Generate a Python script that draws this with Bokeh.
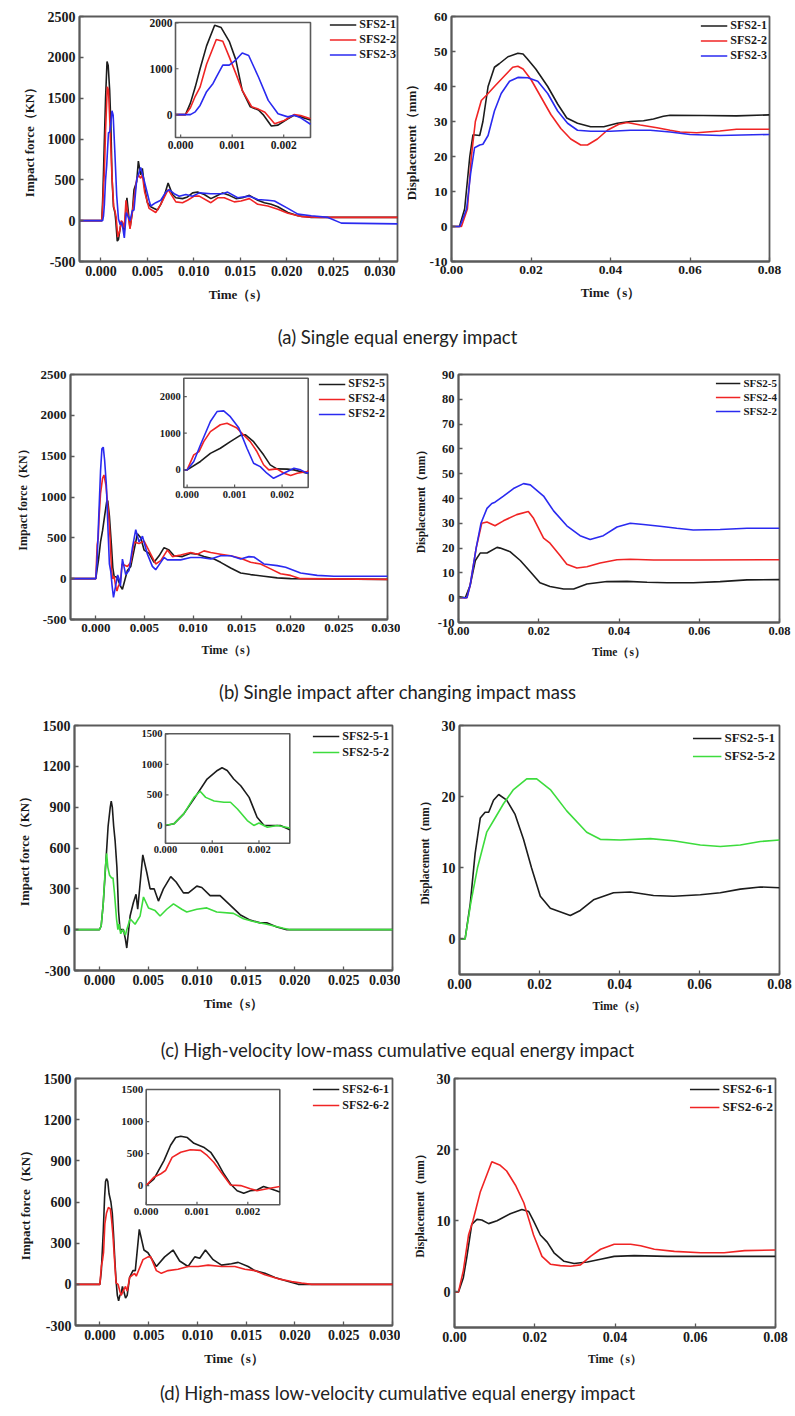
import math
from bokeh.plotting import figure
from bokeh.models import Range1d, FixedTicker, NumeralTickFormatter, Legend, LegendItem, Div
from bokeh.layouts import column, row
from bokeh.embed import file_html
from bokeh.resources import INLINE
from bokeh.core.properties import value

SERIF = "Liberation Serif"
BLACK, RED, BLUE, GREEN = "#1c1c1c", "#f02424", "#2a2af0", "#3ddc3d"
FRAME = "#5a5a5a"

# ---------------- tick values / labels ----------------
force_x_ticks = [0.000, 0.005, 0.010, 0.015, 0.020, 0.025, 0.030]
disp_x_ticks = [0.00, 0.02, 0.04, 0.06, 0.08]
force_y_ticks_ab = [-500, 0, 500, 1000, 1500, 2000, 2500]
force_y_ticks_cd = [-300, 0, 300, 600, 900, 1200, 1500]
disp_y_ticks_a = [-10, 0, 10, 20, 30, 40, 50, 60]
disp_y_ticks_b = [-10, 0, 10, 20, 30, 40, 50, 60, 70, 80, 90]
disp_y_ticks_cd = [0, 10, 20, 30]
inset_x_ticks = [0.000, 0.001, 0.002]
inset_x_labels = ["0.000", "0.001", "0.002"]
inset_y_ticks_ab = [0, 1000, 2000]
inset_y_labels_ab = ["0", "1000", "2000"]
inset_y_ticks_cd = [0, 500, 1000, 1500]
inset_y_labels_cd = ["0", "500", "1000", "1500"]

captions = ["(a) Single equal energy impact",
            "(b) Single impact after changing impact mass",
            "(c) High-velocity low-mass cumulative equal energy impact",
            "(d) High-mass low-velocity cumulative equal energy impact"]

# ---------------- (a) impact force ----------------
t_a1 = [-0.003, 0.0, 0.000094, 0.000189, 0.000283, 0.000377, 0.000503, 0.00066, 0.000786, 0.000943, 0.00107, 0.001195, 0.001352, 0.00151, 0.0016, 0.00176, 0.00189, 0.00208, 0.0022, 0.00233, 0.00252,
        0.0028, 0.00313, 0.00338, 0.00356, 0.00385, 0.00403, 0.00428, 0.00446, 0.00471, 0.005, 0.00536, 0.00572, 0.00608, 0.00644, 0.0068, 0.00723, 0.0077, 0.00806, 0.00878, 0.00932, 0.00986, 0.0104, 0.01112, 0.01183, 0.01237, 0.01309, 0.01381, 0.01453, 0.01525, 0.01597, 0.01687, 0.01759, 0.01831, 0.01903, 0.02011, 0.02119, 0.02263, 0.0237, 0.0259, 0.0325]
f_a1 = [0, 0, 0, 250, 600, 1000, 1500, 1950, 1900, 1600, 1200, 530, 170, 100, 0, -250, -230, -90, -15, -50, -120,
        280, -90, 100, 380, 480, 730, 560, 640, 400, 220, 170, 150, 130, 200, 300, 460, 320, 280, 270, 290, 340, 350, 320, 270, 300, 340, 310, 270, 280, 310, 250, 220, 200, 170, 100, 60, 40, 40, 40, 40]
t_a2 = [-0.003, 0.0, 0.000094, 0.000189, 0.000283, 0.000377, 0.000503, 0.000692, 0.000818, 0.000943, 0.00107, 0.001195, 0.00138, 0.00151, 0.001635, 0.001824, 0.00201, 0.0022, 0.00233, 0.00252,
        0.0027, 0.00313, 0.00338, 0.0036, 0.00385, 0.00403, 0.00428, 0.00446, 0.00471, 0.00518, 0.0059, 0.00644, 0.00723, 0.00806, 0.00878, 0.00932, 0.01004, 0.01058, 0.01183, 0.01255, 0.01327, 0.01435, 0.01507, 0.01597, 0.01687, 0.01795, 0.01903, 0.02011, 0.02155, 0.0237, 0.0325]
f_a2 = [0, 0, 0, 150, 400, 600, 1100, 1640, 1600, 1260, 900, 530, 170, 120, 50, -200, -130, 0, -20, -90,
        250, -100, 100, 300, 500, 560, 520, 560, 350, 150, 100, 200, 380, 230, 220, 250, 300, 300, 220, 280, 280, 230, 240, 270, 200, 180, 140, 90, 50, 40, 40]
t_a3 = [-0.003, 0.0, 0.000189, 0.000283, 0.000377, 0.000503, 0.000629, 0.000692, 0.000818, 0.000943, 0.00107, 0.001195, 0.00132, 0.00151, 0.0017, 0.00189, 0.00208, 0.0022, 0.00233, 0.00252,
        0.00273, 0.00313, 0.00338, 0.00356, 0.00385, 0.00428, 0.00464, 0.00518, 0.00536, 0.0059, 0.00644, 0.00698, 0.00734, 0.00788, 0.00842, 0.00914, 0.00986, 0.01058, 0.01183, 0.01309, 0.01363, 0.01471, 0.01597, 0.01687, 0.01795, 0.01867, 0.02011, 0.02119, 0.02263, 0.02442, 0.02586, 0.0325]
f_a3 = [0, 0, 0, 60, 200, 500, 680, 820, 1080, 1080, 1190, 1345, 1290, 820, 310, 20, -50, -15, -70, -210,
        100, 0, 120, 130, 500, 650, 500, 250, 180, 220, 250, 350, 380, 330, 300, 320, 300, 340, 330, 330, 350, 280, 300, 260, 250, 240, 150, 80, 60, 40, -30, -40]

# ---------------- (a) displacement ----------------
td_a1 = [0, 0.002, 0.0033, 0.0046, 0.0054, 0.0071, 0.0079, 0.0092, 0.0108, 0.012, 0.0142, 0.0167, 0.018, 0.019, 0.0212, 0.0242, 0.0267, 0.029, 0.0317, 0.035, 0.0383, 0.0417, 0.045, 0.0483, 0.0508, 0.0533, 0.055, 0.0633, 0.0717, 0.08]
d_a1 = [0, 0, 5, 20, 26.2, 26, 30, 40, 45.5, 46.5, 48.5, 49.5, 49.3, 48, 45, 40, 35, 31, 29.5, 28.5, 28.5, 29.5, 30, 30.2, 30.7, 31.5, 31.8, 31.7, 31.6, 31.9]
td_a2 = [0, 0.0025, 0.004, 0.005, 0.006, 0.0075, 0.0088, 0.0108, 0.0133, 0.0154, 0.0167, 0.018, 0.02, 0.0225, 0.025, 0.0275, 0.03, 0.0325, 0.0342, 0.0367, 0.0392, 0.0421, 0.0442, 0.0475, 0.0517, 0.055, 0.0575, 0.0617, 0.0675, 0.0717, 0.08]
d_a2 = [0, 0, 5, 20, 30, 36, 37.5, 40, 43, 45.5, 45.8, 45, 42, 37, 32, 28, 25, 23.3, 23.3, 25, 27.5, 29.2, 29.7, 29, 28.2, 27.5, 27, 26.8, 27.3, 27.8, 27.8]
td_a3 = [0, 0.0021, 0.0038, 0.0048, 0.0058, 0.0071, 0.0079, 0.0092, 0.0108, 0.0125, 0.0146, 0.0167, 0.0192, 0.0217, 0.0242, 0.0267, 0.0292, 0.0317, 0.035, 0.04, 0.045, 0.05, 0.055, 0.06, 0.0675, 0.08]
d_a3 = [0, 0, 5, 15, 22.5, 23.3, 23.5, 26, 33, 38, 41.5, 42.6, 42.5, 41.5, 38, 33, 29.5, 27.5, 27.2, 27.2, 27.5, 27.5, 27, 26.3, 26, 26.3]

# ---------------- (b) impact force ----------------
t_b5 = [-0.003, 0.0, 0.00028, 0.00049, 0.0007, 0.00091, 0.00112, 0.00123, 0.0014, 0.00161, 0.00175, 0.00189, 0.00211, 0.00225, 0.00253, 0.00274, 0.00325, 0.0036, 0.00394, 0.00428, 0.00462, 0.00497, 0.00548, 0.00599, 0.00651, 0.00702, 0.00753, 0.00805, 0.0089, 0.00976, 0.01045, 0.01113, 0.01216, 0.01284, 0.01387, 0.0149, 0.01592, 0.01729, 0.01866, 0.02003, 0.031]
f_b5 = [0, 0, 230, 450, 590, 770, 940, 955, 770, 410, 136, 27, 20, 0, -90, -130, 100, 150, 350, 550, 500, 350, 310, 200, 280, 380, 350, 280, 270, 310, 300, 270, 240, 200, 130, 70, 50, 30, 10, 0, -10]
t_b4 = [-0.003, 0.0, 0.00014, 0.00025, 0.00035, 0.00049, 0.0007, 0.00084, 0.00105, 0.00119, 0.00133, 0.00147, 0.00161, 0.00172, 0.00189, 0.00204, 0.00218, 0.00232, 0.00253, 0.0027, 0.00325, 0.0036, 0.00394, 0.00445, 0.00497, 0.00565, 0.00616, 0.00668, 0.00736, 0.00788, 0.00873, 0.00976, 0.01045, 0.01113, 0.01182, 0.01284, 0.01387, 0.0149, 0.01592, 0.01695, 0.01798, 0.019, 0.02003, 0.02106, 0.031]
f_b4 = [0, 0, 410, 500, 770, 1045, 1230, 1270, 1140, 950, 770, 500, 140, 0, 27, -90, -150, -90, -45, 180, 150, 200, 450, 430, 460, 300, 180, 220, 350, 270, 290, 320, 300, 340, 320, 300, 280, 250, 200, 180, 120, 60, 40, 0, -10]
t_b2 = [-0.003, 0.0, 0.00014, 0.00028, 0.00049, 0.00063, 0.00077, 0.00091, 0.00109, 0.00126, 0.0014, 0.00154, 0.00168, 0.00182, 0.00196, 0.00211, 0.00225, 0.00239, 0.00253, 0.00274, 0.00308, 0.00342, 0.00377, 0.00411, 0.00445, 0.0048, 0.00531, 0.00582, 0.00616, 0.00668, 0.00702, 0.00736, 0.00873, 0.00976, 0.01079, 0.01182, 0.01284, 0.01387, 0.0149, 0.01575, 0.01626, 0.01729, 0.01866, 0.01952, 0.02106, 0.02277, 0.02449, 0.031]
f_b2 = [0, 0, 230, 680, 1320, 1590, 1610, 1450, 1140, 590, 180, 90, -90, -230, -140, -45, 45, 0, -90, 240, 50, 100, 380, 600, 450, 520, 300, 150, 110, 200, 260, 230, 230, 260, 260, 240, 280, 280, 240, 270, 265, 180, 160, 140, 70, 40, 30, 30]

# ---------------- (b) displacement ----------------
td_b5 = [0, 0.0017, 0.0029, 0.0042, 0.0054, 0.0071, 0.0096, 0.0104, 0.0129, 0.0154, 0.0179, 0.0203, 0.0228, 0.0262, 0.0287, 0.032, 0.037, 0.042, 0.047, 0.052, 0.0585, 0.0652, 0.0719, 0.08]
d_b5 = [0.5, 0, 5, 15, 18, 18, 20.3, 20, 18.5, 15, 10.5, 6, 4.5, 3.5, 3.5, 5.5, 6.5, 6.6, 6.2, 6, 6, 6.5, 7.2, 7.3]
td_b4 = [0, 0.0021, 0.0029, 0.0044, 0.0058, 0.0071, 0.0091, 0.0112, 0.0145, 0.0174, 0.0187, 0.0212, 0.0228, 0.0253, 0.027, 0.0295, 0.032, 0.0353, 0.0395, 0.0428, 0.0486, 0.0602, 0.08]
d_b4 = [0, 0, 5, 20, 30, 30.5, 29, 31, 33.5, 34.8, 32, 24, 22, 17, 13.5, 12, 12.5, 14, 15.3, 15.5, 15.2, 15.2, 15.3]
td_b2 = [0, 0.0021, 0.0029, 0.0044, 0.0056, 0.0071, 0.0083, 0.0091, 0.0112, 0.0137, 0.0162, 0.0179, 0.0212, 0.0237, 0.027, 0.0303, 0.0328, 0.0361, 0.0395, 0.0428, 0.0461, 0.0502, 0.0544, 0.0585, 0.0652, 0.0719, 0.08]
d_b2 = [0, 0, 5, 20, 30, 36, 38, 38.5, 41, 44, 46, 45.5, 41, 35, 29, 25, 23.5, 25, 28.5, 30, 29.5, 28.8, 28, 27.3, 27.5, 28, 28]

# ---------------- (c) impact force ----------------
t_c1 = [-0.003, 0.0, 0.00018, 0.00039, 0.00061, 0.00089, 0.00111, 0.00121, 0.00132, 0.00146, 0.00161, 0.00179, 0.00196, 0.00211, 0.00246, 0.00266, 0.0028, 0.00314, 0.00348, 0.00375, 0.00392, 0.00444, 0.00485, 0.00519, 0.0056, 0.00604, 0.00655, 0.0073, 0.00785, 0.0086, 0.00911, 0.00997, 0.01048, 0.01133, 0.01235, 0.01338, 0.0144, 0.01543, 0.01645, 0.01713, 0.01816, 0.01918, 0.031]
f_c1 = [0, 0, 27, 190, 436, 760, 900, 945, 900, 760, 650, 460, 135, 0, 0, -70, -135, 100, 200, 260, 150, 550, 420, 300, 300, 210, 300, 390, 350, 270, 270, 320, 310, 250, 250, 180, 110, 70, 50, 50, 20, 0, 0]
t_c2 = [-0.003, 0.0, 0.00018, 0.00039, 0.00061, 0.00074, 0.00086, 0.00104, 0.00125, 0.00139, 0.00154, 0.00175, 0.00189, 0.002, 0.00218, 0.00239, 0.00266, 0.0028, 0.00314, 0.00365, 0.00416, 0.00451, 0.00502, 0.0057, 0.00621, 0.00689, 0.00758, 0.00843, 0.00894, 0.00997, 0.01099, 0.01201, 0.01372, 0.01474, 0.01577, 0.01713, 0.01884, 0.0195, 0.031]
f_c2 = [0, 0, 27, 190, 460, 560, 460, 400, 380, 380, 270, 80, 0, 40, -30, 0, -40, 0, 80, 40, 100, 240, 160, 140, 100, 150, 190, 150, 130, 150, 160, 130, 120, 80, 60, 40, 10, 0, 0]

# ---------------- (c) displacement ----------------
td_c1 = [0, 0.0014, 0.0027, 0.0039, 0.0052, 0.0064, 0.0073, 0.0085, 0.0098, 0.0118, 0.0139, 0.016, 0.018, 0.0202, 0.0227, 0.0277, 0.0302, 0.0335, 0.0385, 0.0427, 0.0485, 0.0535, 0.0602, 0.0652, 0.0702, 0.0752, 0.08]
d_c1 = [0, 0, 5, 12, 17, 17.8, 17.8, 19.5, 20.3, 19.5, 17.5, 14, 10, 6, 4.3, 3.3, 4, 5.5, 6.5, 6.6, 6.1, 6, 6.2, 6.5, 7, 7.3, 7.2]
td_c2 = [0, 0.0014, 0.0028, 0.0045, 0.0068, 0.0089, 0.011, 0.0135, 0.0168, 0.0193, 0.0227, 0.0268, 0.0318, 0.0352, 0.0402, 0.0477, 0.0535, 0.0602, 0.0652, 0.0702, 0.0752, 0.08]
d_c2 = [0, 0, 5, 10, 15, 17, 19, 21, 22.5, 22.5, 21, 18, 15, 14, 13.9, 14.1, 13.8, 13.2, 13, 13.2, 13.7, 13.9]

# ---------------- (d) impact force ----------------
t_d1 = [-0.003, 0.0, 0.00015, 0.00035, 0.00048, 0.00058, 0.00068, 0.00081, 0.00094, 0.00113, 0.00127, 0.0014, 0.00153, 0.00166, 0.00179, 0.00192, 0.00205, 0.00218, 0.00231, 0.00245, 0.00263, 0.0028, 0.00305, 0.00339, 0.00363, 0.00404, 0.00452, 0.00493, 0.00579, 0.00664, 0.0075, 0.00818, 0.00904, 0.00973, 0.01024, 0.01082, 0.01161, 0.01247, 0.01349, 0.01418, 0.0152, 0.01589, 0.01692, 0.01795, 0.01932, 0.02034, 0.031]
f_d1 = [0, 0, 100, 390, 630, 750, 770, 750, 660, 600, 520, 365, 180, 25, -80, -120, -80, -70, -15, -50, -100, -80, 50, 100, 100, 400, 250, 230, 130, 200, 250, 170, 130, 200, 190, 250, 180, 140, 150, 160, 130, 100, 80, 50, 20, 0, 0]
t_d2 = [-0.003, 0.0, 0.00015, 0.00028, 0.00038, 0.00051, 0.00068, 0.00087, 0.00107, 0.0012, 0.00133, 0.0015, 0.00166, 0.00186, 0.00205, 0.00218, 0.00238, 0.00263, 0.0028, 0.00305, 0.00356, 0.00373, 0.00442, 0.00493, 0.00521, 0.00579, 0.0063, 0.00699, 0.00801, 0.00904, 0.01007, 0.0111, 0.01247, 0.01384, 0.01486, 0.01589, 0.01692, 0.01829, 0.01966, 0.02068, 0.02171, 0.031]
f_d2 = [0, 0, 130, 180, 235, 440, 520, 560, 550, 470, 365, 180, 10, 0, -50, -80, -50, -15, -50, 50, 80, 60, 180, 200, 200, 100, 80, 100, 110, 130, 130, 140, 130, 130, 110, 100, 70, 40, 20, 10, 0, 0]

# ---------------- (d) displacement ----------------
td_d1 = [0, 0.001, 0.0022, 0.0031, 0.0043, 0.0056, 0.0068, 0.0085, 0.0106, 0.0139, 0.0168, 0.0185, 0.0197, 0.0214, 0.0231, 0.0248, 0.0273, 0.0298, 0.0331, 0.0364, 0.0398, 0.0448, 0.0531, 0.0614, 0.08]
d_d1 = [0, 0, 2, 5, 9.5, 10.2, 10.1, 9.6, 10, 11, 11.6, 11.3, 10, 8, 7, 5.5, 4.3, 4, 4.2, 4.6, 5, 5.1, 5, 5, 5]
td_d2 = [0, 0.001, 0.0022, 0.0035, 0.0046, 0.0064, 0.0093, 0.0114, 0.013, 0.0152, 0.0173, 0.0197, 0.0218, 0.0239, 0.0264, 0.0289, 0.0314, 0.0339, 0.0364, 0.0398, 0.0439, 0.0464, 0.0498, 0.0548, 0.0614, 0.0672, 0.0723, 0.08]
d_d2 = [0, 0, 3, 8, 10, 14, 18.3, 17.8, 17, 15, 12.5, 8, 5, 3.9, 3.7, 3.6, 3.8, 5, 6, 6.7, 6.7, 6.5, 6, 5.7, 5.5, 5.5, 5.8, 5.9]


def clip_series(t, v, x0, x1):
    """Keep the part of a series inside [x0, x1], cutting the ends at the box edges."""
    out_t, out_v = [], []
    for i in range(len(t)):
        if x0 <= t[i] <= x1:
            if not out_t and i > 0 and t[i - 1] < x0:
                f = (x0 - t[i - 1]) / (t[i] - t[i - 1])
                out_t.append(x0); out_v.append(v[i - 1] + f * (v[i] - v[i - 1]))
            out_t.append(t[i]); out_v.append(v[i])
        elif t[i] > x1 and out_t:
            f = (x1 - t[i - 1]) / (t[i] - t[i - 1])
            out_t.append(x1); out_v.append(v[i - 1] + f * (v[i] - v[i - 1]))
            break
    return out_t, out_v


LW = 1.6


def make_panel(c):
    p = figure(output_backend="svg", toolbar_location=None, tools="",
               frame_width=c["fw"], frame_height=c["fh"],
               x_range=Range1d(*c["xr"]), y_range=Range1d(*c["yr"]),
               min_border_left=c["bl"], min_border_right=c["br"],
               min_border_top=c["bt"], min_border_bottom=c["bb"])
    p.xgrid.visible = False
    p.ygrid.visible = False
    p.outline_line_color = FRAME
    p.outline_line_width = 1.8
    p.background_fill_color = "white"
    p.border_fill_color = "white"
    for ax in (p.xaxis[0], p.yaxis[0]):
        ax.axis_line_color = FRAME
        ax.axis_line_width = 1.8
        ax.major_tick_in = 4
        ax.major_tick_out = 0
        ax.major_tick_line_color = FRAME
        ax.major_tick_line_width = 1.3
        ax.minor_tick_line_color = None
        ax.major_label_text_font = SERIF
        ax.major_label_text_font_style = "bold"
        ax.major_label_text_font_size = f"{c['tfs']}px"
        ax.major_label_text_color = "#1a1a1a"
        ax.major_label_standoff = 4
        ax.axis_label_text_font = SERIF
        ax.axis_label_text_font_style = "bold"
        ax.axis_label_text_font_size = f"{c['lfs']}px"
        ax.axis_label_text_color = "#1a1a1a"
        ax.axis_label_standoff = 8
    p.xaxis.ticker = FixedTicker(ticks=c["xticks"])
    p.yaxis.ticker = FixedTicker(ticks=c["yticks"])
    p.xaxis.formatter = NumeralTickFormatter(format=c["xfmt"])
    p.yaxis.formatter = NumeralTickFormatter(format="0")
    p.xaxis.axis_label = "Time（s）"
    p.yaxis.axis_label = c["ylabel"]

    items = []
    for t, v, col, name in c["series"]:
        r = p.line(t, v, line_color=col, line_width=LW)
        items.append(LegendItem(label=name, renderers=[r]))

    ins = c.get("inset")
    if ins:
        a, b, cb, d = ins["box"]
        x0, x1 = ins["xr"]
        y0, y1 = ins["yr"]
        sx = (x1 - x0) / (b - a)
        sy = (y1 - y0) / (d - cb)
        p.extra_x_ranges = {"ix": Range1d(x0 - a * sx, x1 + (c["fw"] - b) * sx)}
        p.extra_y_ranges = {"iy": Range1d(y0 - cb * sy, y1 + (c["fh"] - d) * sy)}
        kw = dict(x_range_name="ix", y_range_name="iy")
        p.quad(left=[x0], right=[x1], bottom=[y0], top=[y1], fill_color="white",
               line_color=FRAME, line_width=1.6, **kw)
        for t, v, col, name in c["series"]:
            tt, vv = clip_series(t, v, x0, x1)
            p.line(tt, vv, line_color=col, line_width=LW, **kw)
        xt, yt = ins["xticks"], ins["yticks"]
        p.ray(x=xt, y=[y0] * len(xt), length=3, length_units="screen", angle=math.pi / 2,
              line_color=FRAME, line_width=1.2, **kw)
        p.ray(x=[x0] * len(yt), y=yt, length=3, length_units="screen", angle=0,
              line_color=FRAME, line_width=1.2, **kw)
        p.text(x=xt, y=[y0] * len(xt), text=ins["xlabels"], text_align="center",
               text_baseline="top", y_offset=3, text_font=value(SERIF), text_font_style="bold",
               text_font_size=f"{ins['fs']}px", text_color="#1a1a1a", **kw)
        p.text(x=[x0] * len(yt), y=yt, text=ins["ylabels"], text_align="right",
               text_baseline="middle", x_offset=-3, text_font=value(SERIF), text_font_style="bold",
               text_font_size=f"{ins['fs']}px", text_color="#1a1a1a", **kw)

    lg = c["legend"]
    leg = Legend(items=items, location="top_right", margin=lg["margin"], padding=0, spacing=0,
                 glyph_width=lg["gw"], glyph_height=lg["h"], label_height=lg["h"],
                 label_standoff=3, border_line_alpha=0, background_fill_alpha=0,
                 label_text_font=SERIF, label_text_font_style="bold",
                 label_text_font_size=f"{lg['fs']}px", label_text_color="#1a1a1a")
    p.add_layout(leg)
    return p


panels = [
    # ---- row (a)
    dict(fw=318, fh=245, bl=79, br=3, bt=16, bb=64, xr=(-0.0023, 0.0319), yr=(-500, 2500),
         xticks=force_x_ticks, yticks=force_y_ticks_ab, xfmt="0.000", ylabel="Impact force（KN）",
         tfs=14, lfs=13,
         series=[(t_a1, f_a1, BLACK, "SFS2-1"), (t_a2, f_a2, RED, "SFS2-2"), (t_a3, f_a3, BLUE, "SFS2-3")],
         legend=dict(fs=12, h=15, gw=27, margin=1),
         inset=dict(box=(96, 231, 124, 239), xr=(-0.0001, 0.00252), yr=(-500, 2010),
                    xticks=inset_x_ticks, xlabels=inset_x_labels,
                    yticks=inset_y_ticks_ab, ylabels=inset_y_labels_ab, fs=11.5)),
    dict(fw=318, fh=245, bl=47, br=30, bt=16, bb=64, xr=(0, 0.08), yr=(-10, 60),
         xticks=disp_x_ticks, yticks=disp_y_ticks_a, xfmt="0.00", ylabel="Displacement（mm）",
         tfs=13.5, lfs=13,
         series=[(td_a1, d_a1, BLACK, "SFS2-1"), (td_a2, d_a2, RED, "SFS2-2"), (td_a3, d_a3, BLUE, "SFS2-3")],
         legend=dict(fs=12, h=15, gw=27, margin=2)),
    # ---- row (b)
    dict(fw=317, fh=245, bl=70, br=13, bt=24, bb=62, xr=(-0.0026, 0.030), yr=(-500, 2500),
         xticks=force_x_ticks, yticks=force_y_ticks_ab, xfmt="0.000", ylabel="Impact force（KN）",
         tfs=13, lfs=12,
         series=[(t_b5, f_b5, BLACK, "SFS2-5"), (t_b4, f_b4, RED, "SFS2-4"), (t_b2, f_b2, BLUE, "SFS2-2")],
         legend=dict(fs=12, h=14, gw=27, margin=2),
         inset=dict(box=(113.3, 237.7, 132, 241.3), xr=(-0.00007, 0.00255), yr=(-480, 2500),
                    xticks=inset_x_ticks, xlabels=inset_x_labels,
                    yticks=inset_y_ticks_ab, ylabels=inset_y_labels_ab, fs=10.5)),
    dict(fw=321, fh=248, bl=58, br=16, bt=25, bb=58, xr=(0, 0.08), yr=(-10, 90),
         xticks=disp_x_ticks, yticks=disp_y_ticks_b, xfmt="0.00", ylabel="Displacement（mm）",
         tfs=12.5, lfs=11.5,
         series=[(td_b5, d_b5, BLACK, "SFS2-5"), (td_b4, d_b4, RED, "SFS2-4"), (td_b2, d_b2, BLUE, "SFS2-2")],
         legend=dict(fs=11, h=14, gw=25, margin=2)),
    # ---- row (c)
    dict(fw=318, fh=245, bl=74, br=8, bt=21, bb=68, xr=(-0.00255, 0.030), yr=(-300, 1500),
         xticks=force_x_ticks, yticks=force_y_ticks_cd, xfmt="0.000", ylabel="Impact force（KN）",
         tfs=14, lfs=13,
         series=[(t_c1, f_c1, BLACK, "SFS2-5-1"), (t_c2, f_c2, GREEN, "SFS2-5-2")],
         legend=dict(fs=12, h=16, gw=27, margin=3),
         inset=dict(box=(91, 215.3, 127.3, 236.7), xr=(0.0, 0.00266), yr=(-290, 1500),
                    xticks=inset_x_ticks, xlabels=inset_x_labels,
                    yticks=inset_y_ticks_cd, ylabels=inset_y_labels_cd, fs=10.5)),
    dict(fw=320, fh=249, bl=59, br=16, bt=21, bb=64, xr=(0, 0.08), yr=(-5, 30),
         xticks=disp_x_ticks, yticks=disp_y_ticks_cd, xfmt="0.00", ylabel="Displacement（mm）",
         tfs=14, lfs=11.5,
         series=[(td_c1, d_c1, BLACK, "SFS2-5-1"), (td_c2, d_c2, GREEN, "SFS2-5-2")],
         legend=dict(fs=13, h=18, gw=29, margin=4)),
    # ---- row (d)
    dict(fw=317, fh=247, bl=75, br=8, bt=16, bb=56, xr=(-0.0025, 0.030), yr=(-300, 1500),
         xticks=force_x_ticks, yticks=force_y_ticks_cd, xfmt="0.000", ylabel="Impact force（KN）",
         tfs=14, lfs=13,
         series=[(t_d1, f_d1, BLACK, "SFS2-6-1"), (t_d2, f_d2, RED, "SFS2-6-2")],
         legend=dict(fs=12, h=16, gw=27, margin=3),
         inset=dict(box=(70.7, 204.3, 120.7, 236), xr=(0.0, 0.00263), yr=(-300, 1500),
                    xticks=inset_x_ticks, xlabels=inset_x_labels,
                    yticks=inset_y_ticks_cd, ylabels=inset_y_labels_cd, fs=11)),
    dict(fw=321, fh=249, bl=54, br=20, bt=16, bb=54, xr=(0, 0.08), yr=(-5, 30),
         xticks=disp_x_ticks, yticks=disp_y_ticks_cd, xfmt="0.00", ylabel="Displacement（mm）",
         tfs=14, lfs=11.5,
         series=[(td_d1, d_d1, BLACK, "SFS2-6-1"), (td_d2, d_d2, RED, "SFS2-6-2")],
         legend=dict(fs=13, h=18, gw=30, margin=2)),
]

figs = [make_panel(c) for c in panels]


def caption(text, h):
    return Div(text=text, width=795, height=h, margin=0,
               styles={"text-align": "center", "font-family": "Lato", "font-size": "18.5px",
                       "line-height": f"{h}px", "color": "#222222", "white-space": "nowrap"})


layout = column(
    row(figs[0], figs[1], spacing=0), caption(captions[0], 24),
    row(figs[2], figs[3], spacing=0), caption(captions[1], 24),
    row(figs[4], figs[5], spacing=0), caption(captions[2], 24),
    row(figs[6], figs[7], spacing=0), caption(captions[3], 24),
    spacing=0)

open("out.html", "w").write(file_html(layout, INLINE))
